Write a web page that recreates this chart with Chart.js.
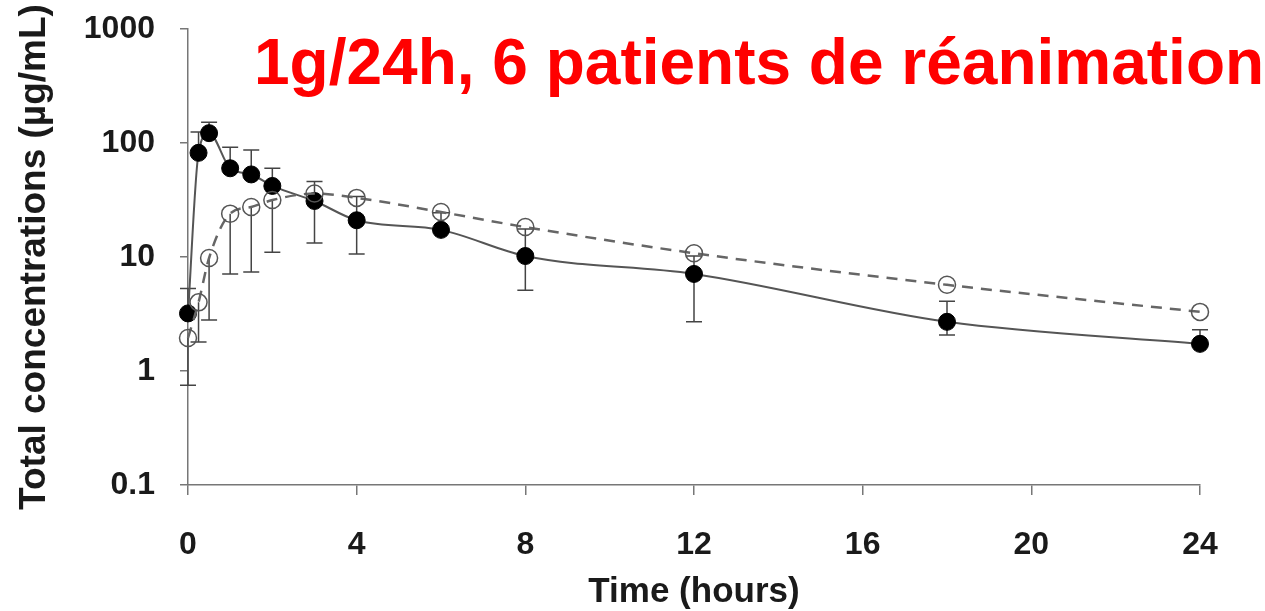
<!DOCTYPE html>
<html>
<head>
<meta charset="utf-8">
<script src="https://cdn.jsdelivr.net/npm/chart.js@4"></script>
<style>
  html, body { margin: 0; padding: 0; background: #fff; }
  canvas { display: block; }
</style>
</head>
<body>
<canvas id="concChart" width="1265" height="611"></canvas>
<script>
// sampling times (h)
const times = [0, 0.25, 0.5, 1, 1.5, 2, 3, 4, 6, 8, 12, 18, 24];

// filled circles, solid curve
const solidConc = [3.2, 82, 122, 60, 53, 42, 31, 21, 17.3, 10.2, 7.1, 2.7, 1.73];
const solidLow  = [null, null, null, null, null, null, 13.3, 10.6, null, 5.1, 2.7, 2.07, null];
const solidHigh = [5.3, 125, 152, 92, 87, 60, null, 34, 24.5, 17.6, 10.2, 4.1, 2.3];

// open circles, dashed curve
const openConc = [1.95, 4.0, 9.8, 24, 27.5, 31.6, 36, 33, 24.8, 18.3, 10.8, 5.7, 3.3];
const openLow  = [0.75, 1.8, 2.8, 7.1, 7.4, 11, null, null, null, null, null, null, null];
const openHigh = [null, null, null, null, null, null, 46, null, null, null, null, null, null];

const xTicks = [0, 4, 8, 12, 16, 20, 24];
const yTicks = [0.1, 1, 10, 100, 1000];
const titleText = '1g/24h, 6 patients de réanimation';

const axisColor = '#777';
const textColor = '#1a1a1a';
const family = '"Liberation Sans", Arial, Helvetica, sans-serif';

function toPoints(ys) {
  return times.map((t, i) => ({ x: t, y: ys[i] }));
}

const errorBars = {
  id: 'errorBars',
  beforeDatasetsDraw(chart) {
    const { ctx, scales: { x, y } } = chart;
    ctx.save();
    ctx.strokeStyle = '#444';
    ctx.lineWidth = 1.5;
    chart.data.datasets.forEach(ds => {
      times.forEach((t, i) => {
        const px = x.getPixelForValue(t);
        const py = y.getPixelForValue(ds.data[i].y);
        [ds.errLow[i], ds.errHigh[i]].forEach(v => {
          if (v == null) return;
          const ey = y.getPixelForValue(v);
          ctx.beginPath();
          ctx.moveTo(px, py);
          ctx.lineTo(px, ey);
          ctx.moveTo(px - 8, ey);
          ctx.lineTo(px + 8, ey);
          ctx.stroke();
        });
      });
    });
    ctx.restore();
  }
};

const bigTitle = {
  id: 'bigTitle',
  afterDraw(chart) {
    const { ctx } = chart;
    ctx.save();
    ctx.font = 'bold 64px ' + family;
    ctx.fillStyle = '#ff0000';
    ctx.textAlign = 'left';
    ctx.textBaseline = 'alphabetic';
    ctx.fillText(titleText, 254, 84);
    ctx.restore();
  }
};

new Chart(document.getElementById('concChart'), {
  type: 'line',
  data: {
    datasets: [
      {
        label: 'open',
        data: toPoints(openConc),
        errLow: openLow,
        errHigh: openHigh,
        borderColor: '#666',
        borderWidth: 2.5,
        borderDash: [11, 8],
        cubicInterpolationMode: 'monotone',
        pointRadius: 8.5,
        pointBorderWidth: 1.5,
        pointBorderColor: '#555',
        pointBackgroundColor: 'rgba(255,255,255,0)',
        clip: false
      },
      {
        label: 'solid',
        data: toPoints(solidConc),
        errLow: solidLow,
        errHigh: solidHigh,
        borderColor: '#555',
        borderWidth: 2,
        cubicInterpolationMode: 'monotone',
        pointRadius: 8.5,
        pointBorderWidth: 1,
        pointBorderColor: '#000',
        pointBackgroundColor: '#000',
        clip: false
      }
    ]
  },
  options: {
    responsive: false,
    devicePixelRatio: 1,
    animation: false,
    layout: { padding: { top: 29, right: 65, left: 0, bottom: 0 } },
    plugins: {
      legend: { display: false },
      tooltip: { enabled: false }
    },
    scales: {
      x: {
        type: 'linear',
        min: 0,
        max: 24,
        afterBuildTicks: s => { s.ticks = xTicks.map(v => ({ value: v })); },
        afterFit: s => { s.height = 126; s.paddingLeft = 0; s.paddingRight = 0; },
        ticks: {
          color: textColor,
          padding: 31,
          font: { family, size: 32, weight: 'bold' }
        },
        grid: { drawOnChartArea: false, tickLength: 10, color: axisColor, lineWidth: 1.5 },
        border: { color: axisColor, width: 1.5 },
        title: {
          display: true,
          text: 'Time (hours)',
          color: textColor,
          padding: { top: 0, bottom: 1 },
          font: { family, size: 35, weight: 'bold', lineHeight: 1 }
        }
      },
      y: {
        type: 'logarithmic',
        min: 0.1,
        max: 1000,
        afterBuildTicks: s => { s.ticks = yTicks.map(v => ({ value: v })); },
        afterFit: s => { s.width = 188; s.paddingTop = 0; s.paddingBottom = 0; },
        ticks: {
          color: textColor,
          padding: 25,
          callback: v => String(v),
          font: { family, size: 32, weight: 'bold' }
        },
        grid: { drawOnChartArea: false, tickLength: 8, color: axisColor, lineWidth: 1.5 },
        border: { color: axisColor, width: 1.5 },
        title: {
          display: true,
          text: 'Total concentrations (µg/mL)',
          color: textColor,
          padding: { top: 16, bottom: 0 },
          font: { family, size: 37, weight: 'bold', lineHeight: 1 }
        }
      }
    }
  },
  plugins: [errorBars, bigTitle]
});
</script>
</body>
</html>
